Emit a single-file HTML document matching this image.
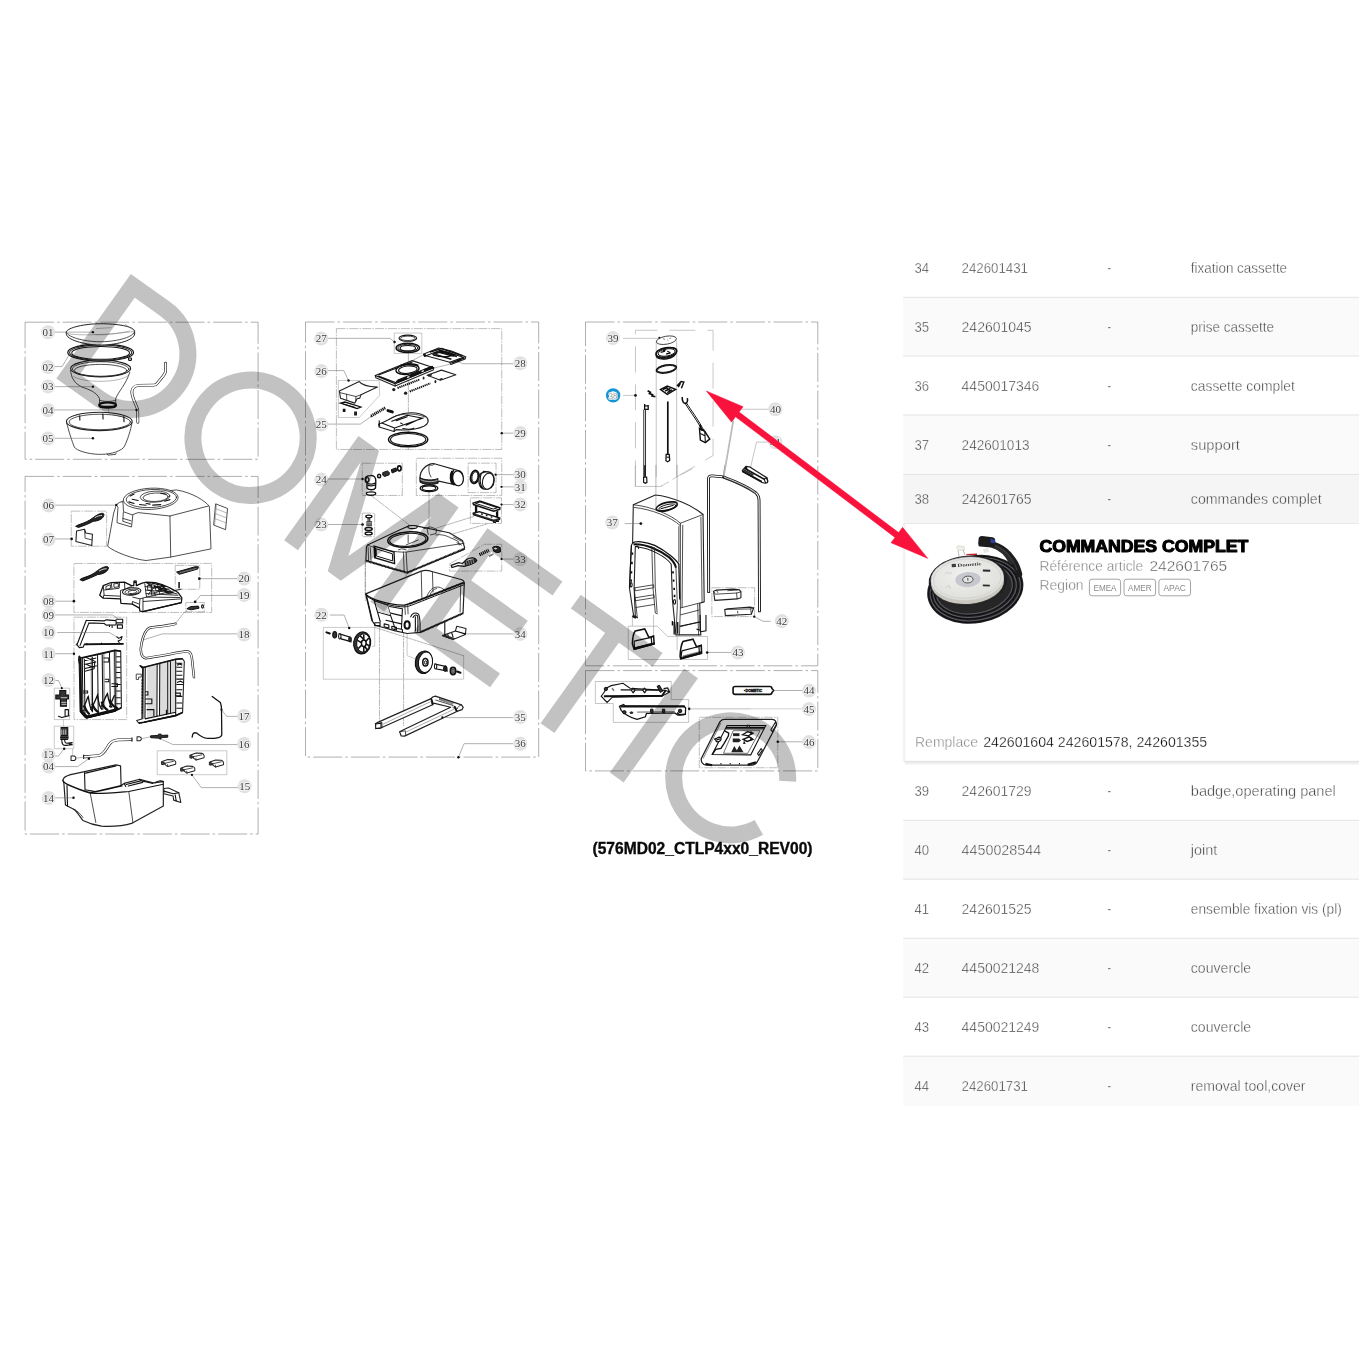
<!DOCTYPE html>
<html lang="fr"><head><meta charset="utf-8"><title>Dometic CTLP4xx0 - vue eclatee</title>
<style>
html,body{margin:0;padding:0;background:#fff;width:1359px;height:1359px;overflow:hidden}
svg{display:block;font-family:"Liberation Sans",sans-serif}
.tg{filter:grayscale(1)}
.s{font-family:"Liberation Serif",serif}
.ln{fill:none;stroke:#222;stroke-width:.8;stroke-linejoin:round;stroke-linecap:round}
.z *{vector-effect:non-scaling-stroke}
.lt{fill:none;stroke:#707070;stroke-width:.5;stroke-linejoin:round;stroke-linecap:round}
.lb{fill:none;stroke:#111;stroke-width:1.1;stroke-linejoin:round;stroke-linecap:round}
.wf{fill:#fff;stroke:#222;stroke-width:.8;stroke-linejoin:round}
.dd{fill:none;stroke:#858585;stroke-width:.65;stroke-dasharray:29 3 2.6 3}
.ds{fill:none;stroke:#8a8a8a;stroke-width:.55;stroke-dasharray:9 1.2 1.5 1.2}
.ld{fill:none;stroke:#707070;stroke-width:.55}
.lbx{fill:none;stroke:#959595;stroke-width:.5}
.lc{fill:#e1e1e1}
.lx{font-family:"Liberation Serif",serif;font-size:11px;fill:#3a3a3a;text-anchor:middle;stroke:#f6f6f6;stroke-width:1.6px;paint-order:stroke fill;stroke-linejoin:round}
.dot{fill:#111}
</style></head>
<body>
<svg width="1359" height="1359" viewBox="0 0 1359 1359">
<rect width="1359" height="1359" fill="#fff"/>
<!-- 10_table.svg -->
<g class="tg" font-size="15" fill="#3a3a3a" stroke-width=".4" style="paint-order:fill stroke">
<rect x="903.2" y="297.3" width="455.8" height="58.7" fill="#fafafa"/>
<rect x="903.2" y="415.0" width="455.8" height="59.4" fill="#fafafa"/>
<rect x="903.2" y="474.4" width="455.8" height="49.2" fill="#f5f5f5"/>
<rect x="903.2" y="820.3" width="455.8" height="58.9" fill="#fafafa"/>
<rect x="903.2" y="938.2" width="455.8" height="59.0" fill="#fafafa"/>
<rect x="903.2" y="1056.2" width="455.8" height="49.8" fill="#fafafa"/>
<rect x="903.2" y="296.8" width="455.8" height="1" fill="#e4e4e4"/>
<g stroke="#ffffff">
<text x="914.4" y="273.1" textLength="14.6" lengthAdjust="spacingAndGlyphs">34</text>
<text x="961.6" y="273.1" textLength="66.4" lengthAdjust="spacingAndGlyphs">242601431</text>
<text x="1107.4" y="273.1" textLength="3.6" lengthAdjust="spacingAndGlyphs">-</text>
<text x="1190.8" y="273.1" textLength="96.3" lengthAdjust="spacingAndGlyphs">fixation cassette</text>
</g>
<rect x="903.2" y="355.5" width="455.8" height="1" fill="#e4e4e4"/>
<g stroke="#fafafa">
<text x="914.4" y="332.2" textLength="14.6" lengthAdjust="spacingAndGlyphs">35</text>
<text x="961.6" y="332.2" textLength="70.0" lengthAdjust="spacingAndGlyphs">242601045</text>
<text x="1107.4" y="332.2" textLength="3.6" lengthAdjust="spacingAndGlyphs">-</text>
<text x="1190.8" y="332.2" textLength="83.3" lengthAdjust="spacingAndGlyphs">prise cassette</text>
</g>
<rect x="903.2" y="414.5" width="455.8" height="1" fill="#e4e4e4"/>
<g stroke="#ffffff">
<text x="914.4" y="391.2" textLength="14.6" lengthAdjust="spacingAndGlyphs">36</text>
<text x="961.6" y="391.2" textLength="77.7" lengthAdjust="spacingAndGlyphs">4450017346</text>
<text x="1107.4" y="391.2" textLength="3.6" lengthAdjust="spacingAndGlyphs">-</text>
<text x="1190.8" y="391.2" textLength="104.1" lengthAdjust="spacingAndGlyphs">cassette complet</text>
</g>
<rect x="903.2" y="473.9" width="455.8" height="1" fill="#e4e4e4"/>
<g stroke="#fafafa">
<text x="914.4" y="450.0" textLength="14.6" lengthAdjust="spacingAndGlyphs">37</text>
<text x="961.6" y="450.0" textLength="67.9" lengthAdjust="spacingAndGlyphs">242601013</text>
<text x="1107.4" y="450.0" textLength="3.6" lengthAdjust="spacingAndGlyphs">-</text>
<text x="1190.8" y="450.0" textLength="49.1" lengthAdjust="spacingAndGlyphs">support</text>
</g>
<g stroke="#f5f5f5">
<text x="914.4" y="504.2" textLength="14.6" lengthAdjust="spacingAndGlyphs">38</text>
<text x="961.6" y="504.2" textLength="70.0" lengthAdjust="spacingAndGlyphs">242601765</text>
<text x="1107.4" y="504.2" textLength="3.6" lengthAdjust="spacingAndGlyphs">-</text>
<text x="1190.8" y="504.2" textLength="130.9" lengthAdjust="spacingAndGlyphs">commandes complet</text>
</g>
<rect x="903.2" y="819.8" width="455.8" height="1" fill="#e4e4e4"/>
<g stroke="#ffffff">
<text x="914.4" y="796.4" textLength="14.6" lengthAdjust="spacingAndGlyphs">39</text>
<text x="961.6" y="796.4" textLength="70.0" lengthAdjust="spacingAndGlyphs">242601729</text>
<text x="1107.4" y="796.4" textLength="3.6" lengthAdjust="spacingAndGlyphs">-</text>
<text x="1190.8" y="796.4" textLength="145.0" lengthAdjust="spacingAndGlyphs">badge,operating panel</text>
</g>
<rect x="903.2" y="878.7" width="455.8" height="1" fill="#e4e4e4"/>
<g stroke="#fafafa">
<text x="914.4" y="855.2" textLength="14.6" lengthAdjust="spacingAndGlyphs">40</text>
<text x="961.6" y="855.2" textLength="79.5" lengthAdjust="spacingAndGlyphs">4450028544</text>
<text x="1107.4" y="855.2" textLength="3.6" lengthAdjust="spacingAndGlyphs">-</text>
<text x="1190.8" y="855.2" textLength="26.5" lengthAdjust="spacingAndGlyphs">joint</text>
</g>
<rect x="903.2" y="937.7" width="455.8" height="1" fill="#e4e4e4"/>
<g stroke="#ffffff">
<text x="914.4" y="914.3" textLength="14.6" lengthAdjust="spacingAndGlyphs">41</text>
<text x="961.6" y="914.3" textLength="70.0" lengthAdjust="spacingAndGlyphs">242601525</text>
<text x="1107.4" y="914.3" textLength="3.6" lengthAdjust="spacingAndGlyphs">-</text>
<text x="1190.8" y="914.3" textLength="151.0" lengthAdjust="spacingAndGlyphs">ensemble fixation vis (pl)</text>
</g>
<rect x="903.2" y="996.7" width="455.8" height="1" fill="#e4e4e4"/>
<g stroke="#fafafa">
<text x="914.4" y="973.4" textLength="14.6" lengthAdjust="spacingAndGlyphs">42</text>
<text x="961.6" y="973.4" textLength="77.7" lengthAdjust="spacingAndGlyphs">4450021248</text>
<text x="1107.4" y="973.4" textLength="3.6" lengthAdjust="spacingAndGlyphs">-</text>
<text x="1190.8" y="973.4" textLength="60.4" lengthAdjust="spacingAndGlyphs">couvercle</text>
</g>
<rect x="903.2" y="1055.7" width="455.8" height="1" fill="#e4e4e4"/>
<g stroke="#ffffff">
<text x="914.4" y="1032.4" textLength="14.6" lengthAdjust="spacingAndGlyphs">43</text>
<text x="961.6" y="1032.4" textLength="77.7" lengthAdjust="spacingAndGlyphs">4450021249</text>
<text x="1107.4" y="1032.4" textLength="3.6" lengthAdjust="spacingAndGlyphs">-</text>
<text x="1190.8" y="1032.4" textLength="60.4" lengthAdjust="spacingAndGlyphs">couvercle</text>
</g>
<g stroke="#fafafa">
<text x="914.4" y="1091.2" textLength="14.6" lengthAdjust="spacingAndGlyphs">44</text>
<text x="961.6" y="1091.2" textLength="66.4" lengthAdjust="spacingAndGlyphs">242601731</text>
<text x="1107.4" y="1091.2" textLength="3.6" lengthAdjust="spacingAndGlyphs">-</text>
<text x="1190.8" y="1091.2" textLength="114.7" lengthAdjust="spacingAndGlyphs">removal tool,cover</text>
</g>
</g>
<defs>
<linearGradient id="shb" x1="0" y1="0" x2="0" y2="1"><stop offset="0" stop-color="#000" stop-opacity=".13"/><stop offset="1" stop-color="#000" stop-opacity="0"/></linearGradient>
<linearGradient id="shl" x1="1" y1="0" x2="0" y2="0"><stop offset="0" stop-color="#000" stop-opacity=".07"/><stop offset="1" stop-color="#000" stop-opacity="0"/></linearGradient>
</defs>
<rect x="903.2" y="523.1" width="456" height="1" fill="#e6e6e6"/>
<rect x="904.7" y="760.6" width="455" height="5" fill="url(#shb)"/>
<rect x="901.7" y="524" width="3" height="238" fill="url(#shl)"/>
<rect x="904.7" y="524.1" width="455" height="236.5" fill="#fff"/>
<rect x="904.2" y="524.1" width="1" height="236.5" fill="#efefef"/>

<!-- 12_panel.svg -->
<g class="tg">
<text x="1039.4" y="552.3" font-size="16.4" font-weight="bold" fill="#000" stroke="#000" stroke-width="1.05" stroke-linejoin="round" textLength="209" lengthAdjust="spacingAndGlyphs">COMMANDES COMPLET</text>
<text x="1039.6" y="570.6" font-size="15" fill="#7c7c7c" stroke="#fff" stroke-width=".35" style="paint-order:fill stroke" textLength="103.6" lengthAdjust="spacingAndGlyphs">Référence article</text>
<text x="1149.4" y="570.6" font-size="15" fill="#585858" stroke="#fff" stroke-width=".35" style="paint-order:fill stroke" textLength="77.8" lengthAdjust="spacingAndGlyphs">242601765</text>
<text x="1039.6" y="590.2" font-size="15" fill="#7c7c7c" stroke="#fff" stroke-width=".35" style="paint-order:fill stroke" textLength="44" lengthAdjust="spacingAndGlyphs">Region</text>
<g fill="#fff" stroke="#9a9a9a" stroke-width=".9">
<rect x="1089.4" y="579.2" width="31.2" height="16.6" rx="2.6"/>
<rect x="1124" y="579.2" width="31.6" height="16.6" rx="2.6"/>
<rect x="1158.9" y="579.2" width="31.6" height="16.6" rx="2.6"/>
</g>
<g font-size="8.6" fill="#8a8a8a" text-anchor="middle">
<text x="1105" y="590.7" textLength="23" lengthAdjust="spacingAndGlyphs">EMEA</text>
<text x="1139.8" y="590.7" textLength="23.5" lengthAdjust="spacingAndGlyphs">AMER</text>
<text x="1174.7" y="590.7" textLength="22.5" lengthAdjust="spacingAndGlyphs">APAC</text>
</g>
<text x="915" y="746.8" font-size="15" fill="#858585" stroke="#fff" stroke-width=".35" style="paint-order:fill stroke" textLength="63" lengthAdjust="spacingAndGlyphs">Remplace</text>
<text x="983.2" y="746.8" font-size="15" fill="#000" stroke="#fff" stroke-width=".3" style="paint-order:fill stroke" textLength="224" lengthAdjust="spacingAndGlyphs">242601604 242601578, 242601355</text>
</g>

<!-- 14_product.svg -->
<g>
<defs>
<radialGradient id="dg" cx=".45" cy=".4" r=".7"><stop offset="0" stop-color="#f0f0ee"/><stop offset="1" stop-color="#dcdcd8"/></radialGradient>
<filter id="pb" x="-5%" y="-5%" width="110%" height="110%"><feGaussianBlur stdDeviation=".4"/></filter>
</defs>
<g filter="url(#pb)">
<!-- cable coil -->
<g transform="translate(975.3,589.3) rotate(-10)">
<ellipse cx="0" cy="0" rx="48.5" ry="34" fill="#252527"/>
<g fill="none" stroke="#5c5c62" stroke-width="1">
<ellipse cx="0" cy="0" rx="45.5" ry="31"/>
<ellipse cx="-.5" cy="-.5" rx="42" ry="28"/>
<ellipse cx="-1" cy="-1" rx="38.5" ry="25"/>
</g>
<g fill="none" stroke="#0e0e10" stroke-width="1">
<ellipse cx="0" cy="0" rx="47" ry="32.5"/>
<ellipse cx="-.5" cy="-.5" rx="43.7" ry="29.5"/>
<ellipse cx="-1" cy="-1" rx="40.2" ry="26.5"/>
</g>
</g>
<!-- cable going to connector -->
<path d="M1019,574 C1015,558 1004,548 994,545" fill="none" stroke="#1d1d1f" stroke-width="6.5" stroke-linecap="round"/>
<path d="M1011,562 C1006,552 1000,548 994,546" fill="none" stroke="#2a2a2c" stroke-width="5" stroke-linecap="round"/>
<path d="M1017,570 C1013,557 1004,549 995,546" fill="none" stroke="#55555a" stroke-width=".6"/>
<!-- connector -->
<path d="M978.6,538.5 Q979,536 982,536 L992.5,537.2 Q995.5,538 995.3,541 L994.6,546 Q994,548 991,547.6 L980,546.5 Q978,546 978.2,543.5 Z" fill="#1b1b1f"/>
<path d="M990.5,538.4 L995,540 L994.5,543.6 L990.5,542.8 Z" fill="#2b3f9a"/>
<!-- small white connector & red wire -->
<path d="M956.5,548 L958,545.6 L964,546.6 L964.5,550 L958.5,550.6 Z" fill="#efeee9" stroke="#bdbbb2" stroke-width=".4"/>
<path d="M958,550.5 L959,556 M963,550 L965,555" stroke="#8a8a80" stroke-width=".6"/>
<path d="M966.5,554.6 L977,554.2" stroke="#c8242c" stroke-width="1.4" fill="none"/>
<path d="M983,549 L988,548 L989,552 L984,553Z" fill="#e8e7e2"/>
<!-- disc -->
<g transform="translate(967.3,578.6) rotate(-4.2)">
<ellipse cx="0.5" cy="2" rx="39.3" ry="24.8" fill="#1f1f21"/>
<ellipse cx="0" cy="5" rx="36.6" ry="21.6" fill="#2e2d2b"/>
<ellipse cx="0" cy="3.8" rx="36.5" ry="21.6" fill="#c9c7c0"/>
<ellipse cx="0" cy="0" rx="36.4" ry="21.5" fill="url(#dg)" stroke="#d2d1cc" stroke-width=".5"/>
<ellipse cx="0" cy="0" rx="33.8" ry="19.6" fill="none" stroke="#b5b6b8" stroke-width=".35"/>
<ellipse cx="0.5" cy="1" rx="12.6" ry="7.6" fill="#c6c8ce"/>
<ellipse cx="0.5" cy="1" rx="5.2" ry="3.4" fill="#e4e4e4" stroke="#26262a" stroke-width=".7"/>
<path d="M0.5,-0.6 L0.5,2.2" stroke="#26262a" stroke-width=".8"/>
<rect x="-14.6" y="-15.6" width="4.2" height="3.2" fill="#3c3c40"/><text x="3.2" y="-12.4" font-family="Liberation Serif,serif" font-weight="bold" font-size="4.6" fill="#3c3c40" text-anchor="middle" textLength="24" lengthAdjust="spacingAndGlyphs">Dometic</text>
<rect x="16" y="-7.6" width="7.4" height="1.9" fill="#2a2a2e" transform="rotate(6 19 -6)"/>
<rect x="15" y="7.4" width="7" height="1.8" fill="#2a2a2e" transform="rotate(6 19 8)"/>
<path d="M-22,-6 q2,-3 4,-1 t3,-1 M-22,8 q1,-3 4,-2 l0,3" fill="none" stroke="#b9b9bc" stroke-width=".5"/>
</g>
</g>
</g>

<!-- 20_boxes.svg -->
<g class="dd">
<rect x="25.1" y="322.2" width="233" height="137.1"/>
<rect x="25.1" y="476.4" width="233" height="357.6"/>
<rect x="305.5" y="322" width="233.2" height="435.1"/>
<rect x="585.5" y="322" width="232.3" height="343.8"/>
<rect x="585.5" y="670.6" width="232.3" height="100.3"/>
</g>
<text class="tg" x="592.5" y="853.6" font-size="15.6" font-weight="bold" fill="#0a0a0a" stroke="#0a0a0a" stroke-width=".35" textLength="220" lengthAdjust="spacingAndGlyphs">(576MD02_CTLP4xx0_REV00)</text>

<!-- 30_colA1.svg -->
<g class="z" transform="translate(30,318) scale(0.110375)">
<!-- axis -->
<path class="lt" d="M712,250 L712,1010"/>
<!-- 05 bowl -->
<path class="wf" d="M332,945 C345,1010 385,1130 402,1170 C420,1200 520,1232 620,1235 C700,1238 800,1222 850,1172 C880,1120 915,1010 925,940"/>
<path class="ln" d="M700,1232 L705,1242 L775,1236 L780,1224"/>
<ellipse class="wf" cx="628" cy="937" rx="298" ry="83" style="stroke-width:1.1"/>
<ellipse class="ln" cx="632" cy="942" rx="278" ry="70"/>
<path class="lb" d="M450,885 L452,925 M660,870 L662,915 M850,892 L852,940"/>
<!-- 03 funnel -->
<path class="wf" d="M368,470 C372,540 400,590 470,625 C540,650 600,670 630,730 L630,772 L778,772 L776,730 C800,670 870,600 905,490"/>
<ellipse cx="703" cy="790" rx="78" ry="24" fill="#fff" stroke="#111" stroke-width="1.87"/>
<ellipse cx="703" cy="783" rx="74" ry="18" fill="none" stroke="#111" stroke-width="1.36"/>
<path class="ln" d="M630,745 C660,760 750,760 777,745"/>
<ellipse class="wf" cx="640" cy="458" rx="272" ry="76" style="stroke-width:1.1"/>
<ellipse class="ln" cx="640" cy="462" rx="256" ry="66"/>
<ellipse class="ln" cx="640" cy="475" rx="238" ry="55"/>
<path class="lt" d="M395,530 C480,590 800,590 885,525"/>
<!-- 02 ring -->
<ellipse cx="640" cy="312" rx="298" ry="78" fill="#fff" stroke="#111" stroke-width="1.19"/>
<ellipse cx="640" cy="313" rx="282" ry="69" fill="none" stroke="#222" stroke-width="1.02"/>
<ellipse cx="640" cy="316" rx="262" ry="58" fill="#fff" stroke="#111" stroke-width="1.02"/>
<rect x="893" y="362" width="26" height="22" rx="5" fill="#fff" stroke="#111" stroke-width="1.1"/>
<!-- 01 lid -->
<path class="wf" d="M328,128 L330,152 C350,205 520,248 650,245 C800,242 940,200 948,145 L948,120 C940,75 790,52 640,52 C500,52 340,85 328,128 Z" style="stroke-width:1"/>
<path class="ln" d="M328,128 C340,180 520,218 650,215 C800,212 945,170 948,120"/>
<path class="lt" d="M335,140 C450,165 720,150 945,122 M862,57 L942,115 M600,95 L735,88 M590,150 C680,160 800,140 900,118"/>
<!-- 04 tube -->
<path d="M1228,410 L1228,480 C1228,500 1215,515 1195,540 L1150,595 C1142,605 1135,608 1120,608 L985,610 C950,612 925,635 923,670 C922,720 965,790 975,830 L977,945" fill="none" stroke="#222" stroke-width="2.89" stroke-linecap="round" stroke-linejoin="round"/>
<path d="M1228,410 L1228,480 C1228,500 1215,515 1195,540 L1150,595 C1142,605 1135,608 1120,608 L985,610 C950,612 925,635 923,670 C922,720 965,790 975,830 L977,945" fill="none" stroke="#fff" stroke-width="1.61" stroke-linecap="round" stroke-linejoin="round"/>
<!-- leaders -->
<path class="ld" d="M215,128 L570,128 M215,440 L290,440 L360,325 M215,622 L570,622 M215,833 L965,833 M215,1090 L570,1090"/>
<g class="dot"><circle cx="570" cy="128" r="11"/><circle cx="570" cy="622" r="11"/><circle cx="965" cy="833" r="11"/><circle cx="570" cy="1090" r="11"/></g>
</g>

<!-- 31_colA2.svg -->
<clipPath id="cA2"><rect x="-100" y="-100" width="1600" height="1105"/></clipPath>
<g class="z" transform="translate(60,480) scale(0.13245)" clip-path="url(#cA2)">
<!-- 06 cover -->
<path class="wf" d="M425,188 L405,250 L360,500 C400,540 560,600 650,608 L835,582 L1140,520 L1128,200 C1100,160 1000,95 880,75 L560,110 Z"/>
<path class="ln" d="M548,262 L590,246 L830,272 L1122,196 M830,272 L836,582"/>
<ellipse class="wf" cx="685" cy="142" rx="207" ry="80" transform="rotate(-3 685 142)"/>
<ellipse class="ln" cx="690" cy="140" rx="190" ry="68" transform="rotate(-3 690 140)"/>
<ellipse class="ln" cx="718" cy="126" rx="112" ry="42" transform="rotate(-3 718 126)"/>
<ellipse class="ln" cx="722" cy="130" rx="95" ry="32" transform="rotate(-3 722 130)"/>
<path class="lb" d="M520,165 l40,12 M545,145 l45,10 M600,185 l50,6 M700,190 l60,-4 M790,160 l40,-12 M650,178 l30,4 M760,100 l40,8 M530,120 l30,-14"/>
<path class="wf" d="M425,190 C440,170 460,162 475,165 L480,240 L550,265 L540,355 L430,322 L438,205 Z"/>
<path class="ln" d="M478,245 L474,312 L537,332 M474,290 L537,308"/>
<!-- sticker -->
<path class="wf" d="M1175,180 L1265,215 L1250,375 L1160,340 Z"/>
<path class="lt" d="M1172,215 L1262,250 M1169,252 L1259,287 M1166,290 L1256,325 M1182,183 L1167,343"/>
<!-- 07 box -->
<path class="ds" d="M85,235 H352 V500 H85 Z"/>
<path d="M118,350 C140,335 170,330 200,315 C240,300 260,270 300,255 C320,248 338,250 330,270 C320,300 280,310 250,312 C220,330 180,345 140,358 Z" fill="#222" stroke="#111" stroke-width="1"/>
<path d="M262,285 C280,272 300,268 318,268" fill="none" stroke="#fff" stroke-width="0.8"/>
<path class="wf" d="M125,385 L185,372 L195,400 L245,410 L240,495 L120,465 Z" style="stroke-width:1.1"/>
<path class="ln" d="M185,372 L190,440 L240,452"/>
<!-- 08 group box -->
<path class="ds" d="M105,630 H1145 V1000 H105 Z"/>
<path d="M150,752 C175,735 205,732 235,716 C270,700 290,672 330,658 C352,650 372,652 364,672 C352,700 315,712 285,714 C250,730 215,746 172,762 Z" fill="#222" stroke="#111" stroke-width="1"/>
<path d="M295,688 C315,674 335,670 352,670" fill="none" stroke="#fff" stroke-width="0.8"/>
<!-- 20 sub box -->
<path class="ds" d="M870,645 H1055 V825 H870 Z"/>
<path d="M880,695 L900,712 L1040,672 L1045,655 L1020,655 Z" fill="#333" stroke="#111" stroke-width="1"/>
<path d="M905,700 L1030,668" stroke="#fff" stroke-width="0.7" stroke-dasharray=".4 .4" fill="none"/>
<path d="M899,770 L899,818" stroke="#111" stroke-width="1.53" fill="none"/>
<!-- 19 -->
<path class="ds" d="M950,925 H1090 V995 H950 Z"/>
<path d="M958,972 L985,956 L1045,952 L1050,968 L990,980 Z" fill="#333" stroke="#111" stroke-width="1"/>
<ellipse cx="1076" cy="955" rx="7" ry="12" fill="#fff" stroke="#111" stroke-width="1.1"/>
<!-- tube 18 -->
<path class="lt" d="M965,975 L870,1082"/>
<path d="M868,1086 C820,1092 740,1098 700,1102 C660,1110 640,1150 625,1200 C605,1260 610,1310 645,1340 C700,1335 860,1300 930,1288 C975,1282 995,1310 998,1360" fill="none" stroke="#222" stroke-width="2.5" stroke-linecap="round"/>
<path d="M868,1086 C820,1092 740,1098 700,1102 C660,1110 640,1150 625,1200 C605,1260 610,1310 645,1340 C700,1335 860,1300 930,1288 C975,1282 995,1310 998,1360" fill="none" stroke="#fff" stroke-width="1.2" stroke-linecap="round"/>
<!-- leaders -->
<path class="ld" d="M-40,190 L425,190 M-40,445 L85,445 M1052,745 L1359,745 M1020,920 L1060,872 L1359,872 M-40,915 L105,915 M1359,1165 L760,1165 L640,1205 M-40,1022 L400,1022 L420,1042 M-40,1150 L370,1150 L440,1185 M-40,1310 L105,1310"/>
<g class="dot"><circle cx="425" cy="188" r="9"/><circle cx="88" cy="445" r="10"/><circle cx="1052" cy="745" r="10"/><circle cx="1020" cy="920" r="10"/><circle cx="105" cy="915" r="10"/><circle cx="105" cy="1310" r="10"/></g>
</g>

<!-- 32_colA3.svg -->
<g class="z" transform="translate(30,605) scale(0.13245)">
<!-- box 09/10/11 -->
<path class="ds" d="M332,92 H730 V865 H332 Z"/>
<!-- bracket 09 -->
<path class="lb" d="M425,115 L560,120 L575,112 L650,118 L650,150 L575,152 L560,140 L445,135 M425,115 L355,300 L372,322 L402,318 L410,296 L705,292 M445,135 L378,305 M650,108 H700 V135 H655 M660,150 H698 V175 H660 Z M430,290 v10 M540,288 v8 M600,150 v12 M620,152 v18"/>
<path d="M410,298 L705,294" stroke="#111" stroke-width="1.7" fill="none"/>
<path class="lb" d="M655,240 l15,12 l25,-14 l-8,25 l-22,8 l8,12"/>
<circle cx="352" cy="298" r="7" fill="#333"/>
<!-- part 11 left panel -->
<path class="wf" d="M370,388 L395,400 L610,352 L640,342 L685,348 L690,775 L640,800 L425,852 L380,805 Z" style="stroke-width:1.1"/>
<path d="M457,400 L474,396 L478,800 L460,805 Z M546,372 L563,368 L568,770 L550,775 Z M630,352 L657,346 L660,790 L634,796 Z" fill="#a9a9a9"/>
<path d="M380,392 L385,805 L425,850" fill="none" stroke="#111" stroke-width="2.4"/>
<path d="M395,815 L430,845 L640,795 L660,770" fill="none" stroke="#111" stroke-width="3"/>
<path d="M410,760 C420,790 430,810 450,825 M470,745 C480,775 495,800 520,812 M540,730 C550,760 565,785 590,795 M600,715 C610,740 625,765 650,775" fill="none" stroke="#111" stroke-width="2.2"/>

<path d="M392,398 L640,342 L685,348" fill="none" stroke="#111" stroke-width="1.7"/>
<path d="M425,852 L640,800 L690,776" fill="none" stroke="#111" stroke-width="1.7"/>
<g fill="none" stroke="#111" stroke-width="1.02">
<path d="M395,400 L400,830 M410,405 L415,835 M510,378 L515,800 M545,372 L550,790 M600,356 L607,775 M640,345 L645,795 M470,390 L472,810 M420,850 L640,798"/>
<path d="M410,420 l90,-20 M410,450 l90,-20 M415,480 l90,-22 M415,500 l70,-18 M420,395 l70,30 l-5,50 l-65,-30 M650,390 h35 M650,430 h35 M650,470 h35 M650,510 h35 M650,550 h35 M650,600 h35 M650,650 h35 M650,700 h35 M650,745 h35 M555,400 h40 v30 h-40 M565,560 h30 v20 h-30 M615,595 h45 v20 h-45 M400,650 h35 v15 h-35"/>
<path d="M400,770 C420,760 430,700 440,690 C445,720 450,780 470,800 M455,790 C480,760 500,700 510,680 C515,720 520,770 545,790 M530,780 C550,750 570,690 585,670 C590,700 600,750 620,775 M600,770 C615,740 625,700 640,680" stroke-width="1.36"/>
<path d="M380,780 L425,835 M385,800 l35,-10"/>
</g>
<path d="M372,385 C366,400 368,430 374,445" class="lb"/>
<!-- right panel -->
<path class="wf" d="M830,458 L855,472 L1100,410 L1150,405 L1165,425 L1152,812 L1100,835 L860,885 L822,892 L805,872 L845,860 L850,480 Z" style="stroke-width:1.1"/>
<path d="M885,466 L955,450 L953,842 L884,856 Z M985,443 L1035,430 L1035,826 L984,836 Z M1065,424 L1095,414 L1095,812 L1065,820 Z" fill="#dcdcdc"/>
<path d="M830,458 L855,472 L1100,410 L1150,405" fill="none" stroke="#111" stroke-width="1.53"/>
<path d="M822,892 L860,885 L1100,835 L1152,812" fill="none" stroke="#111" stroke-width="1.7"/>
<g fill="none" stroke="#111" stroke-width="1.1">
<path d="M855,472 L852,860 M870,470 L868,858 M960,448 L958,840 M980,444 L978,836 M1040,428 L1040,825 M1060,424 L1060,820 M1100,412 L1100,833 M860,885 L1100,833 M868,860 L1100,810"/>
<path d="M1105,440 h45 M1105,470 h45 M1105,500 h45 M1105,530 h45 M1105,560 h50 M1105,600 h50 M1105,640 h45 M1105,690 h45 M1105,740 h45 M1105,780 h45 M1110,455 l20,-10 l20,10 M1110,585 l25,-10 l20,10 M1095,665 h40 v20 h-40 M870,655 h20 v25 h-20 M870,710 h50 v35 h-50 M880,790 h55 v50 M1030,790 v40"/>
</g>
<path class="wf" d="M802,522 h38 v22 h-20 v18 h-18 Z"/>
<path d="M848,560 v260" stroke="#111" stroke-width="1.53" stroke-dasharray="2 1" fill="none"/>
<!-- tube 18 (continuation) -->
<path d="M1165,55 L1098,140" class="lt"/>
<path id="t18" d="M1098,142 C1050,155 950,165 905,172 C870,185 855,230 842,290 C828,350 840,395 872,402 C960,390 1100,362 1178,350 C1205,348 1218,365 1222,400 L1238,545" fill="none" stroke="#222" stroke-width="2.5" stroke-linecap="round"/>
<path d="M1098,142 C1050,155 950,165 905,172 C870,185 855,230 842,290 C828,350 840,395 872,402 C960,390 1100,362 1178,350 C1205,348 1218,365 1222,400 L1238,545" fill="none" stroke="#fff" stroke-width="1.2" stroke-linecap="round"/>
<!-- 12 -->
<path class="lbx" d="M183,628 H300 V865 H183 Z M183,915 H330 V1085 H183 Z M252,865 V915 M322,1085 V1140"/>
<g fill="#333" stroke="#111" stroke-width="1.1">
<path d="M225,645 h45 v35 h20 v30 h-15 v55 h-45 v-55 h-35 v-30 h30 Z"/>
<path d="M235,925 h50 v60 h-50 Z M232,995 h55 v10 h-55 Z"/>
</g>
<path d="M232,700 h50 M236,735 h40 M238,750 h38 M240,940 v40 M255,940 v40 M270,940 v40" stroke="#fff" stroke-width="0.7" fill="none"/>
<path class="lb" d="M215,840 l25,10 l55,-15 M265,835 V790 h25 v40 M232,1015 h52 M240,1020 C240,1050 250,1062 270,1060 L320,1055 M262,1020 C262,1040 268,1045 285,1043 L320,1040 M300,1040 v16 M310,1039 v16"/>
<!-- hose 04 lower -->
<path d="M408,1146 C460,1142 500,1140 525,1135 C560,1125 575,1085 600,1050 C615,1028 640,1020 665,1018 L768,1015" fill="none" stroke="#222" stroke-width="2.89" stroke-linecap="butt"/>
<path d="M408,1146 C460,1142 500,1140 525,1135 C560,1125 575,1085 600,1050 C615,1028 640,1020 665,1018 L768,1015" fill="none" stroke="#fff" stroke-width="1.7"/>
<path class="lb" d="M405,1133 v26 M770,1003 v25"/>
<path class="wf" d="M310,1140 h25 l10,8 v18 l-10,8 h-25 Z M808,995 h22 l10,8 v14 l-10,8 h-22 Z" style="stroke-width:1.02"/>
<path class="lt" d="M345,1157 L405,1150 M840,1010 L910,995"/>
<path d="M910,988 L965,985 L970,975 L990,975 L992,985 L1040,982 L1040,998 L995,1000 L985,1012 L968,1005 L912,1002 Z" fill="#333" stroke="#111" stroke-width="1"/>
<!-- leaders -->
<path class="ld" d="M180,75 L625,75 L665,105 M205,208 L600,208 L660,245 M180,368 L332,368 M185,570 L215,570 L240,628 M180,1140 L215,1140 L258,1085 M180,1220 L360,1220 L445,1160 M860,262 L1000,218 L1563,218"/>
<g class="dot"><circle cx="332" cy="368" r="9"/><circle cx="240" cy="628" r="8"/><circle cx="258" cy="1085" r="9"/><circle cx="445" cy="1160" r="9"/><circle cx="985" cy="1008" r="7"/></g>
</g>

<!-- 33_colA4.svg -->
<g class="z" transform="translate(50,735) scale(0.10302)">
<!-- 14 tank -->
<path class="wf" d="M125,440 C128,415 150,398 200,385 L640,290 L685,300 L690,490 L720,470 L870,430 L1000,465 L1100,452 L1100,690 L800,855 C720,880 600,890 500,885 C430,875 360,850 320,830 C290,790 260,740 230,720 L150,680 L135,470 Z" style="stroke-width:1.19"/>
<path class="lb" d="M125,440 C135,470 200,500 380,555 C420,562 470,545 700,495 M135,455 C160,490 250,520 390,565 C500,572 620,560 765,548 L1100,478 M335,365 L340,532 L440,548 L690,490 M345,370 L640,300 M165,490 L170,690 M720,470 L735,500 M870,430 L890,445 L1000,470 M740,480 L880,445 M760,495 L900,460 M1100,452 C1080,440 1040,445 1020,465"/>
<path class="ln" d="M390,562 L445,850 M765,550 L805,852 M230,720 C250,722 290,760 320,800"/>
<path class="wf" d="M1105,520 L1150,515 L1250,560 L1270,655 L1200,632 L1195,592 L1105,570 Z" style="stroke-width:1.1"/>
<path class="lb" d="M1105,545 L1195,570 L1250,560 M1215,580 L1225,640"/>
<path class="ld" d="M-40,610 L228,610"/>
<circle class="dot" cx="228" cy="610" r="12"/>
</g>

<!-- 34_colA5.svg -->
<g class="z" transform="translate(140,680) scale(0.095657)">
<path d="M755,172 L840,235 C850,260 852,290 852,310 L855,575 C850,595 835,600 820,602 C780,610 720,612 690,608 C650,600 620,575 595,556 C575,548 560,552 552,565 L545,598" fill="none" stroke="#111" stroke-width="1.27" stroke-linecap="round" stroke-linejoin="round"/>
<path class="ld" d="M852,310 L905,380 L1020,380 M225,620 L345,675 L1020,675 M543,992 L640,1125 L1030,1125"/>
<path class="lbx" d="M180,740 H908 V990 H180 Z"/>
<g class="dot"><circle cx="852" cy="310" r="11"/><circle cx="543" cy="992" r="12"/></g>
<g id="clip15">
<path class="wf" d="M225,855 L290,832 L350,835 C370,840 378,860 372,880 L290,905 L262,885 L262,870 L240,868 L240,885 L225,880 Z" style="stroke-width:1.02"/>
<path d="M225,855 L240,850 L262,868 L262,885 L240,885 L240,868 L225,880 Z" fill="#333"/>
<path class="ln" d="M262,870 L350,850 M290,905 L288,885"/>
</g>
<use href="#clip15" x="297" y="-68"/>
<use href="#clip15" x="500" y="5"/>
<use href="#clip15" x="200" y="68"/>
</g>

<!-- 35_tray08.svg -->
<g class="z" transform="translate(90,560) scale(0.0883)">
<path d="M110,400 L150,290 L240,255 L390,250 L470,290 L495,290 L500,240 L522,240 L525,290 L590,262 L640,250 L740,255 C850,280 960,340 1000,372 L1040,430 L1035,482 L600,585 L565,580 L560,545 L480,500 L350,490 L345,440 L150,432 Z" fill="#fff" stroke="#111" stroke-width="1.27" stroke-linejoin="round"/>
<g fill="none" stroke="#111" stroke-width="0.85" stroke-linejoin="round">
<path d="M150,290 L160,400 M240,255 L250,330 L160,340 M250,330 L330,320 L335,260 M180,300 L230,280 L232,320 L182,335 Z M270,270 L320,265 L322,305 L272,310 Z M390,250 L395,330 L345,345 L345,440 M395,330 L470,300 M150,432 L155,400 L345,410"/>
<ellipse cx="472" cy="356" rx="105" ry="42" transform="rotate(-5 472 356)" stroke-width="1.02"/>
<ellipse cx="476" cy="360" rx="80" ry="30" transform="rotate(-5 476 360)"/>
<ellipse cx="480" cy="362" rx="50" ry="18" transform="rotate(-5 480 362)"/>
<path d="M560,545 L565,440 L600,430 L600,585 M565,440 L480,420 M600,430 L1035,330 M600,470 L1038,440 M560,500 L480,470 L480,500"/>
<path d="M620,265 L640,420 M690,255 L700,405 M760,262 L790,385 M830,285 L880,365 M900,315 L960,350 M620,300 L900,330 M625,340 L950,370 M630,380 L1000,400 M640,420 L1020,425 M660,262 L760,300 L860,300 M700,330 L780,300 M720,380 L820,340 L900,380 M650,290 L700,290 L705,340 L655,345 Z M740,300 L800,310 L810,350 L745,345 Z M850,330 L910,345 L920,385 L860,375 Z M930,370 L990,385 M660,400 L680,360 L730,365 L740,405"/>
</g>
<g stroke="#111" stroke-width="1.27" fill="none"><path d="M700,262 L830,290 M720,300 L870,335 M780,330 L940,372 M640,255 L700,300 M800,280 L850,330 M600,585 L1035,482"/></g>
<path d="M500,240 h22 v14 h-22 Z" fill="#fff" stroke="#111" stroke-width="1.02"/>
</g>

<!-- 40_colB1.svg -->
<g class="z" transform="translate(330,322) scale(0.110375)">
<path class="ds" d="M58,60 H1556 V1155 H58 Z"/>
<path class="lt" d="M710,285 V1150" stroke-dasharray="9 1.5 1.5 1.5"/>
<!-- 27 rings -->
<path class="lbx" d="M582,100 H832 V285 H582 Z"/>
<ellipse cx="705" cy="147" rx="80" ry="28" fill="#fff" stroke="#111" stroke-width="1.1"/>
<ellipse cx="705" cy="148" rx="66" ry="20" fill="none" stroke="#222" stroke-width="0.8"/>
<ellipse cx="705" cy="235" rx="106" ry="42" fill="#fff" stroke="#111" stroke-width="1.44"/>
<ellipse cx="705" cy="235" rx="90" ry="33" fill="none" stroke="#222" stroke-width="1"/>
<ellipse cx="705" cy="237" rx="70" ry="24" fill="none" stroke="#111" stroke-width="1.1"/>
<!-- thin connection lines -->
<path class="lt" d="M745,350 L850,295 M940,418 L1095,380"/>
<!-- 28 cover -->
<path class="wf" d="M850,290 L985,235 L1100,262 L1230,315 L1225,335 L1095,385 L1085,365 L870,305 Z" style="stroke-width:1.1"/>
<path class="lb" d="M870,305 L1000,255 L1210,320 M950,290 C990,265 1060,270 1110,300 M940,300 C1000,320 1060,320 1120,300 M985,275 L1120,310 M1000,262 L1140,298 M1085,365 L1215,318 M850,290 l5,18 l15,-3"/>
<path d="M905,272 L1010,240 L1195,305 M930,300 C960,262 1080,262 1130,308 M955,295 L1100,338 M985,262 L1150,312 M1100,372 L1220,325" fill="none" stroke="#111" stroke-width="1.5"/>
<path d="M852,292 l14,22 M1160,352 l18,-8" stroke="#111" stroke-width="2.2" fill="none"/>
<!-- plate -->
<path class="wf" d="M410,485 L745,350 L940,415 L935,435 L590,580 L415,505 Z" style="stroke-width:1.1"/>
<path class="lb" d="M410,485 L590,560 L940,415 M590,560 V580 M440,480 L745,362 M445,492 L600,550"/>
<ellipse cx="702" cy="430" rx="105" ry="44" fill="#fff" stroke="#111" stroke-width="1.36" transform="rotate(-6 702 430)"/>
<ellipse cx="705" cy="432" rx="85" ry="33" fill="none" stroke="#111" stroke-width="1.1" transform="rotate(-6 705 432)"/>
<path d="M600,545 L700,505 M720,495 L830,450 M850,440 L935,408" stroke="#111" stroke-width="2.55" fill="none"/>
<path d="M610,528 L925,400" stroke="#111" stroke-width="1.02" fill="none"/>
<path d="M640,395 C680,375 760,375 800,395" stroke="#111" stroke-width="1.87" fill="none"/>
<!-- seal plate right -->
<path class="wf" d="M880,482 L1010,436 L1140,478 L1000,527 Z" style="stroke-width:1.1"/>
<path d="M878,482 l40,-14 l8,14 l-30,12 Z M985,518 l25,-10 l15,8 l-22,12 Z" fill="#222"/>
<!-- screws -->
<circle cx="578" cy="612" r="15" fill="#222"/><circle cx="685" cy="645" r="15" fill="#222"/>
<path d="M612,598 L815,520 M722,630 L910,555" stroke="#111" stroke-width="2.04" stroke-dasharray="1.3 .7" fill="none"/>
<ellipse cx="848" cy="507" rx="9" ry="14" fill="#222"/><ellipse cx="955" cy="540" rx="9" ry="14" fill="#222"/>
<!-- 26 -->
<path class="lbx" d="M75,530 H445 L450,665 L265,865 H75 Z"/>
<path class="wf" d="M85,625 L265,540 C290,575 340,585 430,590 L280,660 L270,690 L245,695 L225,735 L95,690 Z" style="stroke-width:1.1"/>
<path class="ln" d="M90,640 L235,675 L280,660 M150,655 L152,705 M235,675 L232,725"/>
<path d="M95,735 L135,725 L280,770 L245,785 Z" fill="#fff" stroke="#111" stroke-width="1.27"/>
<path d="M120,742 l110,32" stroke="#111" stroke-width="1.02" fill="none"/>
<path d="M122,785 v30 M134,785 v30 M225,812 v35 M238,812 v35" stroke="#111" stroke-width="1.36" fill="none"/>
<!-- 25 spring -->
<path d="M372,852 L500,778" stroke="#111" stroke-width="2.89" stroke-dasharray="1.2 .7" fill="none"/>
<path d="M525,802 L565,815" stroke="#111" stroke-width="2.89" fill="none" stroke-linecap="round"/>
<circle cx="375" cy="855" r="9" fill="#222"/>
<!-- 25 base -->
<path class="wf" d="M440,925 L470,915 L600,850 C680,815 800,810 870,858 C905,890 890,925 850,945 C800,968 700,985 600,975 L580,992 L445,952 Z" style="stroke-width:1.1"/>
<path class="lb" d="M470,915 L585,960 L845,870 M585,960 L580,990 M560,900 L700,845 L830,870 L690,935 M600,895 L700,858 M640,915 l15,8 M445,895 l5,50 M660,965 C700,975 740,972 760,962"/>
<path class="ln" d="M540,880 C600,830 760,815 860,860"/>
<!-- seal ring -->
<ellipse cx="708" cy="1065" rx="178" ry="66" fill="#fff" stroke="#111" stroke-width="1.44"/>
<ellipse cx="708" cy="1065" rx="160" ry="55" fill="none" stroke="#111" stroke-width="1.1"/>
<!-- leaders -->
<path class="ld" d="M-40,148 L545,148 L585,182 M-40,440 L125,440 L168,530 M-40,925 L275,925 L375,855 M1160,355 L1200,378 L1658,378 M1556,1007 L1658,1007"/>
<g class="dot"><circle cx="585" cy="182" r="11"/><circle cx="168" cy="530" r="11"/><circle cx="1160" cy="355" r="9"/><circle cx="1556" cy="1007" r="11"/></g>
</g>

<!-- 41_colB2.svg -->
<g class="z" transform="translate(330,450) scale(0.110375)">
<!-- boxes -->
<path class="ds" d="M292,120 H655 V412 H292 Z M782,75 H1556 V412 H782 Z"/>
<path class="ds" d="M292,572 H405 V785 H292 Z"/>
<path class="lt" d="M372,412 L720,680 M897,375 V700" stroke-dasharray="5 1.2 1.2 1.2"/>
<!-- 24 elbow -->
<path d="M318,268 C318,240 340,232 365,232 C400,225 418,250 415,290 L412,345 C400,365 350,365 335,345 L335,300 C322,295 318,285 318,268 Z" fill="#fff" stroke="#111" stroke-width="1.36"/>
<ellipse cx="338" cy="270" rx="17" ry="24" fill="#222" stroke="#111" stroke-width="1"/>
<ellipse cx="338" cy="270" rx="8" ry="13" fill="#fff"/>
<path d="M335,300 C350,312 400,312 413,296 M340,318 C360,328 395,326 412,315" fill="none" stroke="#111" stroke-width="1.19"/>
<ellipse cx="372" cy="395" rx="42" ry="15" fill="#fff" stroke="#111" stroke-width="1.36"/>
<ellipse cx="445" cy="236" rx="14" ry="16" fill="#fff" stroke="#111" stroke-width="1.53"/>
<path d="M478,205 L520,190 L538,205 L535,225 L495,240 L478,228 Z" fill="#333" stroke="#111" stroke-width="1"/>
<path d="M555,178 L598,162 L605,190 L563,208 Z" fill="#222" stroke="#111" stroke-width="1"/>
<ellipse cx="628" cy="166" rx="16" ry="23" fill="#fff" stroke="#111" stroke-width="1.7"/>
<!-- 23 -->
<ellipse cx="352" cy="602" rx="28" ry="12" fill="#fff" stroke="#111" stroke-width="1.27"/>
<path d="M345,612 v32 M360,612 v32" stroke="#111" stroke-width="1.02"/>
<rect x="330" y="645" width="50" height="46" fill="#222"/>
<path d="M332,657 h46 M332,668 h46 M332,679 h46" stroke="#fff" stroke-width="0.5"/>
<ellipse cx="350" cy="716" rx="32" ry="13" fill="#fff" stroke="#111" stroke-width="1.53"/>
<ellipse cx="350" cy="756" rx="32" ry="13" fill="#fff" stroke="#111" stroke-width="1.36"/>
<!-- 31 elbow pipe -->
<path class="wf" d="M815,245 C815,200 850,150 900,130 C915,124 930,122 945,125 L1180,192 C1215,210 1215,300 1165,322 L985,282 L975,300 L818,290 Z" style="stroke-width:1.19"/>
<path d="M815,250 C850,275 940,278 978,258 L975,300 C940,318 850,315 818,292 Z" fill="#333" stroke="#111" stroke-width="1"/>
<path d="M820,268 C860,290 940,292 975,275" stroke="#fff" stroke-width="0.6" fill="none"/>
<path class="ln" d="M900,132 C890,170 895,215 915,245 M905,135 C930,150 945,128 945,125"/>
<ellipse cx="1160" cy="256" rx="48" ry="68" fill="#fff" stroke="#111" stroke-width="1.19" transform="rotate(-8 1160 256)"/>
<path d="M1105,190 C1085,220 1088,290 1112,312 M1120,180 C1098,215 1100,290 1128,318" fill="none" stroke="#111" stroke-width="1.53"/>
<ellipse cx="897" cy="346" rx="80" ry="30" fill="#fff" stroke="#111" stroke-width="1.36"/>
<ellipse cx="897" cy="346" rx="62" ry="21" fill="none" stroke="#111" stroke-width="1.02"/>
<!-- cassette top -->
<path class="wf" d="M340,860 L640,720 L720,685 L790,690 L1080,750 L1200,820 L1220,885 L1215,900 L700,1110 L560,1075 L325,1000 L330,880 Z" style="stroke-width:1.19"/>
<path class="ln" d="M340,862 C450,905 600,928 690,925 L1215,845 M690,925 L700,1105 M665,925 L672,1098 M345,880 L350,1000 M365,885 L372,1005"/>
<path d="M330,1005 L700,1112 L1220,893" fill="none" stroke="#111" stroke-width="2.21" stroke-dasharray=".9 .5"/>
<ellipse cx="705" cy="812" rx="182" ry="70" fill="#fff" stroke="#111" stroke-width="1.53" transform="rotate(-4 705 812)"/>
<ellipse cx="705" cy="814" rx="165" ry="58" fill="none" stroke="#111" stroke-width="1.1" transform="rotate(-4 705 814)"/>
<path class="ln" d="M690,860 L800,815 M708,770 V840"/>
<path d="M400,870 L580,925 L585,1030 L405,975 Z" fill="#fff" stroke="#111" stroke-width="1.36"/>
<path d="M418,895 L565,940 L568,1005 L420,960 Z" fill="none" stroke="#111" stroke-width="1"/>
<path d="M405,880 v95 M412,884 v92" stroke="#111" stroke-width="1.02"/>
<ellipse cx="748" cy="698" rx="42" ry="14" fill="#fff" stroke="#111" stroke-width="1.1"/>
<path class="ln" d="M850,712 l60,-15 l55,20 l-5,40 l-50,12 M880,715 l10,50 M620,905 l30,-10 l40,10 M1105,800 l60,30 l5,30 M1120,790 l80,40 M1150,840 l40,20 M960,770 C1000,760 1060,775 1100,800"/>
<!-- dash-dot verticals -->
<path class="lt" d="M320,1005 V1365 M690,1105 V1365 M870,1100 V1365" stroke-dasharray="6 1.5 1.5 1.5"/>
<!-- 33 key -->
<path class="ds" d="M1084,1032 L1401,854 H1556 V1097 H1084 Z"/>
<path d="M1098,1045 L1165,1020 L1200,1028 L1240,990 C1280,968 1320,975 1330,1000 C1325,1030 1250,1045 1215,1055 L1160,1048 L1105,1065 Z" fill="#fff" stroke="#111" stroke-width="1.19"/>
<path d="M1215,1010 L1320,982 L1328,1012 L1225,1050 Z" fill="#333"/>
<path d="M1235,1008 l8,35 M1255,1002 l8,35 M1275,996 l8,35 M1295,990 l8,35" stroke="#fff" stroke-width="0.6"/>
<!-- leaders -->
<path class="ld" d="M-40,263 L295,263 M-40,675 L295,675"/>
<g class="dot"><circle cx="295" cy="263" r="11"/><circle cx="295" cy="675" r="12"/></g>
</g>

<!-- 42_colB3.svg -->
<g class="z" transform="translate(320,565) scale(0.117733)">
<!-- vertical dash lines -->
<path class="lt" d="M385,-40 V245 M505,520 V1365 M710,560 V1365" stroke-dasharray="6 1.5 1.5 1.5"/>
<!-- box 22 -->
<path class="lbx" d="M465,530 H28 V970 H1220 V770 M440,690 H465 V530 M740,545 V770 L815,800"/>
<path class="lt" d="M465,530 L1220,770" stroke-dasharray="3 1"/>
<!-- tank -->
<path class="wf" d="M388,245 L860,52 C890,42 920,45 950,55 L1205,125 C1225,135 1230,150 1225,170 L1215,410 L850,572 L740,582 L640,560 L470,512 L440,470 Z" style="stroke-width:1.19"/>
<path d="M388,245 C420,290 600,345 720,340 C760,335 800,315 1220,150" fill="none" stroke="#111" stroke-width="1.36"/>
<path d="M400,265 C440,305 620,360 725,355 C770,350 800,330 1222,168" fill="none" stroke="#111" stroke-width="1"/>
<path d="M760,330 L1222,150 M850,572 L1215,410" fill="none" stroke="#111" stroke-width="2.21" stroke-dasharray=".9 .5"/>
<path class="ln" d="M860,55 L865,275 M955,60 L960,230 M720,345 L725,420 M745,340 L748,415 M900,290 C915,240 940,200 975,190 C1010,182 1040,195 1060,215 M935,255 C945,225 960,205 990,200 M1195,175 L1190,400"/>
<path class="lb" d="M395,262 L445,470 M460,300 L512,482 M470,310 L575,345 L600,430 L490,400 M590,352 L700,372 L692,540 M600,430 L640,545 M480,380 L690,430 M560,470 L690,500 M465,490 h45 v25 h-45 Z M545,500 l40,10 v25 l-40,-10 Z M610,520 l40,10 v22 l-40,-10 Z M660,540 l40,8 v22"/>
<path d="M472,312 L575,347 L598,425 L492,398 Z" fill="#ddd" stroke="none"/>
<path class="lb" d="M770,440 C780,410 810,400 835,415 C850,430 852,470 850,560 M790,445 C800,425 815,420 828,430 C835,450 832,500 830,565 M810,440 v120"/>
<ellipse cx="740" cy="510" rx="22" ry="32" fill="#fff" stroke="#111" stroke-width="2.04"/>
<!-- left wheel -->
<path d="M55,572 l28,10" stroke="#111" stroke-width="2.04" stroke-linecap="round"/>
<ellipse cx="125" cy="592" rx="17" ry="28" fill="#333" stroke="#111" stroke-width="1.02"/>
<path d="M165,585 L250,612 L262,650 L180,628 Z" fill="#fff" stroke="#111" stroke-width="1.19"/>
<ellipse cx="255" cy="632" rx="12" ry="22" fill="#333" stroke="#111"/>
<ellipse cx="168" cy="606" rx="10" ry="22" fill="#fff" stroke="#111" stroke-width="1.02"/>
<ellipse cx="358" cy="662" rx="72" ry="94" fill="#333" stroke="#111" stroke-width="1.19" transform="rotate(8 358 662)"/>
<ellipse cx="368" cy="662" rx="56" ry="78" fill="#fff" stroke="#111" stroke-width="1" transform="rotate(8 368 662)"/>
<ellipse cx="372" cy="665" rx="20" ry="28" fill="#fff" stroke="#111" stroke-width="1.53"/>
<path d="M372,637 V590 M372,693 V738 M352,660 L318,640 M392,670 L420,690 M355,680 L325,710 M390,648 L415,620 M340,600 l30,30 M400,720 l-20,-30" stroke="#111" stroke-width="1.53" fill="none"/>
<!-- right wheel -->
<ellipse cx="882" cy="826" rx="72" ry="96" fill="#333" stroke="#111" stroke-width="1.19" transform="rotate(8 882 826)"/>
<ellipse cx="896" cy="826" rx="60" ry="88" fill="#fff" stroke="#111" stroke-width="1.02" transform="rotate(8 896 826)"/>
<ellipse cx="895" cy="826" rx="22" ry="32" fill="#fff" stroke="#111" stroke-width="1.53"/>
<ellipse cx="897" cy="828" rx="9" ry="15" fill="#fff" stroke="#111" stroke-width="1"/>
<path d="M978,842 L1070,862 L1080,900 L992,884 Z" fill="#fff" stroke="#111" stroke-width="1.19"/>
<ellipse cx="982" cy="862" rx="10" ry="21" fill="#fff" stroke="#111" stroke-width="1.02"/>
<ellipse cx="1064" cy="880" rx="15" ry="24" fill="#222" stroke="#111"/>
<ellipse cx="1130" cy="900" rx="22" ry="30" fill="#fff" stroke="#111" stroke-width="1.87"/>
<ellipse cx="1130" cy="900" rx="9" ry="14" fill="#fff" stroke="#111" stroke-width="1"/>
<path d="M1165,905 l28,10" stroke="#111" stroke-width="2.04" stroke-linecap="round"/>
<!-- 34 clip -->
<path class="wf" d="M1040,600 L1150,560 L1162,520 L1240,540 L1235,590 L1130,632 Z" style="stroke-width:1.1"/>
<path class="lb" d="M1150,560 L1232,585 M1060,605 l70,22 M1085,590 l10,30 M1120,580 l10,30 M1060,480 V600"/>
<path d="M1040,600 L1130,632 L1150,622 L1062,592 Z" fill="#333"/>
<!-- leaders -->
<path class="ld" d="M85,425 L205,425 L248,535 M1230,585 L1639,585"/>
<g class="dot"><circle cx="248" cy="535" r="10"/><circle cx="1232" cy="583" r="8"/></g>
</g>

<!-- 43_colB4.svg -->
<g class="z" transform="translate(420,440) scale(0.095657)">
<path class="ds" d="M503,242 H795 V550 H503 Z M527,605 H852 V872 H527 Z"/>
<path class="lt" d="M560,800 L175,920 M700,878 L330,985" stroke-dasharray="3 1"/>
<!-- ring 30 -->
<ellipse cx="572" cy="386" rx="42" ry="68" fill="#fff" stroke="#111" stroke-width="1.87" transform="rotate(12 572 386)"/>
<ellipse cx="574" cy="386" rx="30" ry="55" fill="none" stroke="#111" stroke-width="1" transform="rotate(12 574 386)"/>
<!-- cap -->
<path class="wf" d="M625,362 C640,335 700,322 740,340 C775,360 785,420 765,470 C745,510 690,525 650,505 C615,485 605,410 625,362 Z" style="stroke-width:1.36"/>
<ellipse cx="712" cy="430" rx="58" ry="85" fill="#fff" stroke="#111" stroke-width="1.02" transform="rotate(14 712 430)"/>
<path class="lb" d="M640,350 C622,400 625,470 655,500 M655,340 l10,-12 l20,2 M630,480 l10,15"/>
<!-- 32 -->
<path d="M555,660 L625,638 L835,708 L832,725 L770,745 L560,675 Z" fill="#fff" stroke="#111" stroke-width="1.53"/>
<path d="M580,662 L628,648 L810,708 L765,722 Z" fill="none" stroke="#111" stroke-width="1"/>
<path d="M580,685 V760 M592,690 V755 M800,748 V815 M812,742 V810" stroke="#111" stroke-width="1.19" fill="none"/>
<path d="M555,765 L620,748 L835,815 L832,832 L775,850 L558,782 Z" fill="#333" stroke="#111" stroke-width="1.19"/>
<path d="M575,768 L622,757 L815,818 L772,830 Z" fill="#fff" stroke="none"/>
<path d="M640,770 l15,10 M690,785 l15,10 M740,800 l15,10" stroke="#111" stroke-width="1.36"/>
<path d="M770,850 v12 h20 v-10 M800,840 v12 h20 v-10" stroke="#111" stroke-width="1.02" fill="none"/>
<!-- 33 small bits -->
<path d="M622,1200 L720,1152" stroke="#111" stroke-width="3.4" stroke-dasharray="1.2 .7" fill="none"/>
<path d="M722,1215 L770,1190" stroke="#111" stroke-width="1.53" stroke-dasharray=".6 .4" fill="none"/>
<path d="M760,1125 C775,1105 815,1105 838,1125 L842,1165 C825,1182 790,1180 770,1160 Z" fill="#333" stroke="#111" stroke-width="1.02"/>
<ellipse cx="790" cy="1135" rx="22" ry="16" fill="#fff" stroke="#111" stroke-width="1"/>
<!-- leaders -->
<path class="ld" d="M790,362 H990 M852,490 H990 M852,675 H990 M852,1245 H990"/>
<g class="dot"><circle cx="790" cy="362" r="12"/><circle cx="852" cy="490" r="12"/><circle cx="852" cy="675" r="12"/><circle cx="852" cy="1245" r="12"/></g>
</g>

<!-- 44_colB5.svg -->
<g class="z" transform="translate(360,670) scale(0.10302)">
<!-- handle 35 -->
<path class="wf" d="M150,522 L178,506 L690,278 L705,262 L732,254 L985,338 L1002,362 L990,385 L940,402 L432,642 L400,640 L385,600 L418,582 L880,362 L715,322 L705,338 L195,566 L160,566 Z" style="stroke-width:1.19"/>
<path class="ln" d="M212,510 L215,560 M150,522 L210,512 M385,600 L440,590 L445,638 M690,278 C700,295 705,315 705,338 M735,292 L905,345 M900,360 C915,370 930,385 940,402 M985,338 C965,345 950,355 945,375"/>
<path d="M690,280 C700,295 703,315 703,336 M915,350 C928,365 936,385 938,402" stroke="#111" stroke-width="1.87" fill="none"/>
<path d="M770,282 L905,328" stroke="#111" stroke-width="2.04" stroke-dasharray=".6 .5" fill="none"/>
<path class="lt" d="M225,525 L690,305 M450,600 L915,380" stroke-dasharray=".5 .5"/>
<rect x="152" y="520" width="52" height="45" fill="#fff" stroke="#111" stroke-width="1.1" transform="skewY(-8) translate(0,25)"/>
<!-- leaders -->
<path class="ld" d="M800,460 L860,462 L1485,462 M955,848 L1010,715 L1485,715"/>
<g class="dot"><circle cx="800" cy="460" r="11"/><circle cx="955" cy="848" r="12"/></g>
</g>

<!-- 50_colC1.svg -->
<g class="z" transform="translate(590,322) scale(0.110375)">
<!-- box 38 (long dash) -->
<path d="M412,1489 V75 H1115 V1210 L640,1489" fill="none" stroke="#999" stroke-width="0.55" stroke-dasharray="26 12"/>
<path class="lt" d="M600,170 V1400 M785,170 V1400" style="stroke:#888;stroke-width:0.5"/>
<!-- 39 badge -->
<ellipse cx="692" cy="165" rx="92" ry="36" fill="#fff" stroke="#333" stroke-width="0.9" transform="rotate(-10 692 165)"/>
<path d="M660,150 l20,8 M700,160 l10,10 M720,150 l15,-4" stroke="#555" stroke-width="0.7"/>
<!-- control disc -->
<ellipse cx="690" cy="292" rx="92" ry="42" fill="#333" stroke="#111" stroke-width="1.19" transform="rotate(-10 690 292)"/>
<ellipse cx="692" cy="276" rx="95" ry="42" fill="#fff" stroke="#111" stroke-width="1.7" transform="rotate(-10 692 276)"/>
<ellipse cx="694" cy="276" rx="78" ry="32" fill="none" stroke="#111" stroke-width="1" transform="rotate(-10 694 276)"/>
<path d="M640,275 l40,-12 M690,290 l40,-10 M700,265 l25,12 M660,258 l30,-8" stroke="#111" stroke-width="1.36" fill="none"/>
<!-- o-ring -->
<ellipse cx="692" cy="425" rx="92" ry="35" fill="#fff" stroke="#111" stroke-width="1.53" transform="rotate(-10 692 425)"/>
<ellipse cx="692" cy="425" rx="82" ry="28" fill="none" stroke="#111" stroke-width="0.9" transform="rotate(-10 692 425)"/>
<!-- small parts -->
<path d="M640,612 L700,580 L775,610 L700,655 Z" fill="#fff" stroke="#111" stroke-width="1.53"/>
<path d="M660,612 l40,-18 M680,625 l50,-22 M700,640 l45,-25 M690,590 l40,40" stroke="#111" stroke-width="1.53" fill="none"/>
<path d="M788,580 L825,540 L850,545 L838,575 L828,600 M800,590 l20,-35" stroke="#111" stroke-width="1.44" fill="none"/>
<path d="M522,622 l25,15 l-8,12 l28,10 l-5,10 l30,8" stroke="#111" stroke-width="1.7" fill="none"/>
<!-- left cable -->
<path d="M495,742 v50 h32 v-40 M498,760 h25" stroke="#111" stroke-width="1.36" fill="none"/>
<path d="M487,795 V1400 M503,795 V1400" stroke="#333" stroke-width="1" fill="none"/>
<!-- center cable -->
<path d="M705,720 V1200" stroke="#111" stroke-width="1.7" fill="none"/>
<path d="M690,1200 h28 l4,55 l-18,12 l-16,-10 Z" fill="#fff" stroke="#111" stroke-width="1.27"/>
<path d="M694,1225 h24" stroke="#111" stroke-width="1.02"/>
<!-- right cable -->
<path d="M835,680 C835,710 845,735 862,738 C880,735 888,715 882,690" stroke="#111" stroke-width="1.53" fill="none"/>
<path d="M862,738 C900,800 960,880 1000,950 M872,730 C915,800 980,880 1040,1000" stroke="#111" stroke-width="1" fill="none"/>
<path d="M992,965 L1040,990 L1085,1060 L1045,1092 L1000,1070 Z" fill="#fff" stroke="#111" stroke-width="1.44"/>
<path d="M1040,990 L1045,1092 M1000,1010 l40,20" stroke="#111" stroke-width="1.1" fill="none"/>
<path d="M995,930 l15,45 l25,5" stroke="#111" stroke-width="1.87" fill="none"/>
<!-- leaders -->
<path class="ld" d="M300,148 L628,148 M300,665 L412,665" style="stroke:#999"/>
<path class="lt" d="M1300,900 L1215,1400"/>
<g class="dot"><circle cx="628" cy="142" r="9"/><circle cx="412" cy="665" r="12"/></g>
</g>

<!-- 51_colC2.svg -->
<g class="z" transform="translate(610,470) scale(0.117733)">
<!-- seal 40 -->
<path d="M838,1040 L836,75 C838,55 850,48 870,50 L960,58 C1060,95 1180,150 1240,195 C1262,215 1266,230 1266,260 L1270,1203" fill="none" stroke="#111" stroke-width="2.9" stroke-linejoin="round"/>
<path d="M838,1040 L836,75 C838,55 850,48 870,50 L960,58 C1060,95 1180,150 1240,195 C1262,215 1266,230 1266,260 L1270,1203" fill="none" stroke="#fff" stroke-width="1.1" stroke-linejoin="round"/>
<path d="M960,64 C1060,100 1180,155 1238,200" fill="none" stroke="#333" stroke-width="1.53" stroke-dasharray=".5 .5"/>
<path d="M828,1040 h22 M1258,1204 h22" stroke="#222" stroke-width="1"/>
<!-- 37 housing -->
<path class="wf" d="M198,295 L385,212 C520,225 700,300 790,378 L800,1120 L762,1132 L770,1400 L560,1400 L530,1100 L520,800 C480,740 350,665 215,650 L205,1000 L215,1240 L232,1255 L200,1235 L165,1000 L182,640 L192,620 Z" style="stroke-width:1.1"/>
<path class="ln" d="M198,295 C350,310 520,380 598,452 L790,378 M205,318 C350,332 520,400 596,472 M598,452 L598,1172 L760,1130 M618,470 L612,1165 M585,480 L585,780 M772,400 L782,1120 M598,1172 L590,1400"/>
<ellipse cx="482" cy="310" rx="92" ry="34" fill="#fff" stroke="#111" stroke-width="1.7" transform="rotate(-14 482 310)"/>
<ellipse cx="486" cy="316" rx="74" ry="22" fill="none" stroke="#111" stroke-width="1" transform="rotate(-14 486 316)"/>
<path d="M430,330 L540,300" stroke="#111" stroke-width="1.02"/>
<!-- arch -->
<path d="M192,622 C210,600 300,605 380,640 C480,690 560,760 585,800 L592,1100" fill="none" stroke="#111" stroke-width="1.27"/>
<path d="M200,632 C300,625 420,680 500,740 C540,775 555,800 560,830" fill="none" stroke="#111" stroke-width="2.04"/>
<path d="M215,650 C240,640 250,660 240,670 M182,640 C175,750 170,900 168,1000" fill="none" stroke="#111" stroke-width="1.1"/>
<path d="M190,700 v20 M186,780 v20 M182,860 v20 M180,930 v20 M535,860 v20 M540,930 v20 M545,1000 v20 M548,1060 v20" stroke="#111" stroke-width="1.7"/>
<ellipse cx="180" cy="975" rx="8" ry="18" fill="#fff" stroke="#111" stroke-width="1.1"/><ellipse cx="548" cy="1120" rx="9" ry="20" fill="#fff" stroke="#111" stroke-width="1.1"/>
<!-- back legs and shelves -->
<path class="ln" d="M355,650 L365,1000 L385,1215 L402,1222 M378,660 L385,1000 L400,1210 M205,1000 L232,1255 M215,1000 L370,975 L372,1000 L218,1025 Z M215,1085 L372,1060 L375,1085 L218,1110 Z M218,1168 L378,1142"/>
<path class="ln" d="M560,830 L572,1150 L560,1400 M600,1230 L755,1190 M598,1330 L760,1290 M745,1140 L752,1400"/>
<!-- box 42 -->
<path class="ds" d="M865,1000 H1228 V1245 H865 Z"/>
<path class="wf" d="M880,1030 L905,1020 L1050,1012 L1100,1018 L1112,1035 L1112,1085 L1080,1095 L890,1107 Z" style="stroke-width:1.1"/>
<path class="ln" d="M880,1030 L895,1055 L1075,1045 L1112,1035 M1075,1045 L1080,1095 M905,1020 L915,1040 M1000,1025 L1080,1020"/>
<path class="wf" d="M975,1185 L1000,1178 L1190,1165 L1220,1172 L1200,1225 L980,1237 Z" style="stroke-width:1.1"/>
<path class="ln" d="M975,1185 L1195,1180 L1220,1172 M1195,1180 L1200,1225 M1085,1200 v15"/>
<!-- top stuff -->
<path d="M215,-40 V140 H430 L500,100 M600,42 L700,-10" fill="none" stroke="#9a9a9a" stroke-width="0.55"/>
<path class="lt" d="M390,-40 V330 M570,-40 V290"/>
<path d="M296,-40 V60" stroke="#111" stroke-width="1.36"/>
<path d="M285,60 h26 l3,45 l-14,8 l-14,-8 Z" fill="#fff" stroke="#111" stroke-width="1.19"/>
<!-- leaders -->
<path class="ld" d="M125,455 L262,455 M1225,1245 L1300,1285 L1365,1285"/>
<path class="lt" d="M960,62 L975,-40"/>
<g class="dot"><circle cx="262" cy="455" r="12"/><circle cx="1225" cy="1245" r="10"/><circle cx="960" cy="62" r="7"/></g>
</g>

<!-- 52_colC3.svg -->
<g class="z" transform="translate(700,390) scale(0.0883)">
<path class="ld" d="M785,218 L395,218 L262,985 M780,590 L640,590 L572,880" style="stroke:#8a8a8a;stroke-width:0.5"/>
<g class="dot"><circle cx="572" cy="882" r="11"/><circle cx="262" cy="985" r="9"/></g>
<path class="wf" d="M480,912 L520,866 L560,870 L760,995 L768,1035 L738,1056 L700,1045 L482,925 Z" style="stroke-width:1.27"/>
<path d="M482,918 L700,1040 M505,885 L735,1015 M520,866 L530,900" stroke="#111" stroke-width="1.7" fill="none"/>
<path d="M500,895 L610,955 L600,975 L490,915 Z" fill="#333"/>
<ellipse cx="748" cy="1025" rx="15" ry="28" fill="#fff" stroke="#111" stroke-width="1.02" transform="rotate(-20 748 1025)"/>
</g>

<!-- 53_colC4.svg -->
<g class="z" transform="translate(590,615) scale(0.117733)">
<!-- box 43 -->
<path class="ld" d="M325,95 H570 L660,182 H998 V378 H325 Z M360,0 V95 M540,0 V178 M740,165 V300 M945,150 V182" style="stroke:#8a8a8a;stroke-width:0.5"/>
<path d="M360,245 C362,190 370,150 385,135 L465,118 L500,190 L540,178 L545,245 L375,292 Z" fill="#fff" stroke="#111" stroke-width="1.53"/>
<path d="M375,222 L520,190 L540,178 M375,222 L378,288 M520,190 L525,250 M372,280 L545,238" stroke="#111" stroke-width="1.19" fill="none"/>
<path d="M372,288 L548,242" stroke="#111" stroke-width="2.21"/>
<path d="M765,350 C768,290 775,250 790,225 L875,205 L905,270 L945,258 L948,325 L770,372 Z" fill="#fff" stroke="#111" stroke-width="1.53"/>
<path d="M780,305 L925,268 L945,258 M780,305 L772,368 M925,268 L930,330" stroke="#111" stroke-width="1.19" fill="none"/>
<path d="M770,368 L948,322" stroke="#111" stroke-width="2.21"/>
<path d="M790,350 L945,310" stroke="#111" stroke-width="1.36" stroke-dasharray=".4 .3"/>
<!-- housing feet bottom details -->
<path d="M715,60 V165 M745,60 V160 M700,50 v40" stroke="#111" stroke-width="1.36" fill="none"/>
<path d="M935,0 V140 M985,0 V135 L940,142 M760,95 L935,60 M905,120 l25,8" stroke="#111" stroke-width="1.1" fill="none"/>
<path d="M360,10 l30,15" stroke="#111" stroke-width="1.87"/>
<!-- box 45 -->
<path class="ld" d="M45,565 H690 V718 H838 V912 H198 V752 H45 Z" style="stroke:#8a8a8a;stroke-width:0.5"/>
<!-- bracket upper -->
<path d="M95,690 L125,650 L130,625 L180,600 L280,580 L340,622 L640,640 L675,655 L610,690 L190,698 L145,742 Z" fill="#fff" stroke="#111" stroke-width="1.1"/>
<path d="M118,690 L612,686 L642,642" stroke="#111" stroke-width="1.87" fill="none"/>
<path d="M260,635 L600,638" stroke="#111" stroke-width="1.27" fill="none"/>
<g fill="#333" stroke="#111" stroke-width="1"><circle cx="135" cy="628" r="14"/><path d="M350,640 l15,-22 l18,22 l-16,24 Z M447,640 l15,-22 l18,22 l-16,24 Z"/><path d="M570,605 l20,-8 l28,50 l-22,10 Z"/></g>
<circle cx="365" cy="641" r="6" fill="#fff"/><circle cx="462" cy="641" r="6" fill="#fff"/>
<path d="M190,615 l20,25 l-10,8 l-18,-22 Z" fill="#777"/>
<path d="M625,625 l35,-5 l15,35" stroke="#111" stroke-width="1.19" fill="none"/>
<!-- bracket lower -->
<path d="M250,775 L285,760 L300,775 L800,775 L812,790 L810,845 L745,850 L720,832 L480,836 L470,865 L400,886 C340,875 280,830 265,810 Z" fill="#fff" stroke="#111" stroke-width="1.27"/>
<path d="M258,776 L805,778" stroke="#111" stroke-width="2.04" fill="none"/>
<path d="M400,825 L720,822" stroke="#888" stroke-width="1.36"/>
<g fill="#333" stroke="#111" stroke-width="1"><circle cx="292" cy="826" r="14"/><circle cx="765" cy="815" r="15"/><path d="M515,800 h20 v30 h-20 Z M615,800 h20 v30 h-20 Z"/><ellipse cx="352" cy="830" rx="12" ry="7"/></g>
<path d="M740,830 l20,18 l45,-5" stroke="#111" stroke-width="1.7" fill="none"/>
<!-- leaders -->
<path class="ld" d="M995,318 H1210"/>
<path class="ld" d="M843,797 H1365" style="stroke:#bbb"/>
<g class="dot"><circle cx="995" cy="318" r="11"/><circle cx="843" cy="797" r="11"/></g>
</g>

<!-- 54_colC5.svg -->
<g class="z" transform="translate(690,640) scale(0.10302)">
<!-- 44 -->
<path d="M438,452 H775 Q795,452 795,470 L812,490 L795,510 Q795,528 775,528 H438 Q418,528 418,508 V472 Q418,452 438,452 Z" fill="#fff" stroke="#111" stroke-width="1.61"/>
<path d="M518,490 l18,-10 v20 Z" fill="#111"/><text x="620" y="502" font-size="34" font-weight="bold" fill="#111" stroke="#111" stroke-width=".35" text-anchor="middle" textLength="160" lengthAdjust="spacingAndGlyphs" style="font-family:'Liberation Sans',sans-serif">DOMETIC</text>
<path class="ld" d="M812,490 H1090 M852,988 H1090"/>
<path d="M0,668 H1090" stroke="#c8c8c8" stroke-width="0.8" fill="none"/>
<!-- box 46 -->
<path class="ds" d="M90,750 H852 V1240 H90 Z"/>
<!-- 46 frame -->
<path class="wf" d="M110,1150 L290,795 C300,778 315,770 335,770 L800,770 C830,772 840,790 838,830 L660,1170 C645,1200 625,1215 600,1215 L160,1215 C120,1210 105,1180 110,1150 Z" style="stroke-width:1.27"/>
<path d="M215,1112 L360,830 L735,830 L590,1115 Z" fill="#fff" stroke="#111" stroke-width="1.1"/>
<path d="M350,852 L722,852" stroke="#111" stroke-width="2.04"/>
<path d="M352,866 L715,866" stroke="#555" stroke-width="0.8"/>
<rect x="555" y="828" width="22" height="20" fill="#fff" stroke="#111" stroke-width="1.02"/>
<path d="M325,1100 L420,880 L680,880 L560,1100 Z" fill="none" stroke="#333" stroke-width="0.7"/>
<g fill="#222"><rect x="418" y="905" width="62" height="28"/><path d="M415,955 h60 l20,18 l-20,20 h-60 Z"/><path d="M400,1090 l30,-60 l25,40 l25,-45 l40,65 Z"/><path d="M515,1010 l10,-40 l15,40 Z"/></g>
<path d="M510,920 l50,-30 l50,15 l-45,25 Z M515,965 l60,-25 l35,25 l-55,20 Z" fill="#fff" stroke="#111" stroke-width="1.36"/>
<path d="M590,885 l20,25 l-25,5 M590,945 l20,22 l-28,6" fill="#222" stroke="#111" stroke-width="1"/>
<path d="M215,1112 L250,1062 L300,1052 L330,1005 L372,932 L376,905 L332,880" fill="none" stroke="#111" stroke-width="1.36"/>
<ellipse cx="276" cy="966" rx="27" ry="20" fill="#fff" stroke="#111" stroke-width="1.27" transform="rotate(-30 276 966)"/>
<path d="M262,970 l28,-10 M235,965 l15,-12" stroke="#111" stroke-width="1.27"/>
<path d="M785,872 L828,800 L840,815 L800,890 Z M655,1105 L690,1055 L702,1068 L668,1122 Z" fill="#fff" stroke="#111" stroke-width="1.02"/>
<path d="M150,1203 L215,1216 M560,1212 L640,1186" stroke="#111" stroke-width="2.21"/>
<path d="M300,1195 v14 M390,1195 v14 M480,1195 v14" stroke="#111" stroke-width="1.02"/>
<path d="M128,1150 L300,805" stroke="#555" stroke-width="0.7"/>
<g class="dot"><circle cx="852" cy="988" r="12"/></g>
</g>

<!-- 70_labels.svg -->
<g class="tg">
<circle class="lc" cx="48.0" cy="332.3" r="7"/>
<circle class="lc" cx="48.0" cy="367.0" r="7"/>
<circle class="lc" cx="48.0" cy="386.5" r="7"/>
<circle class="lc" cx="48.0" cy="410.2" r="7"/>
<circle class="lc" cx="48.0" cy="438.4" r="7"/>
<circle class="lc" cx="48.6" cy="505.6" r="7"/>
<circle class="lc" cx="48.6" cy="539.4" r="7"/>
<circle class="lc" cx="244.1" cy="578.5" r="7"/>
<circle class="lc" cx="244.1" cy="595.0" r="7"/>
<circle class="lc" cx="48.6" cy="601.2" r="7"/>
<circle class="lc" cx="48.6" cy="615.0" r="7"/>
<circle class="lc" cx="48.6" cy="632.5" r="7"/>
<circle class="lc" cx="244.1" cy="634.6" r="7"/>
<circle class="lc" cx="48.6" cy="654.0" r="7"/>
<circle class="lc" cx="48.6" cy="680.0" r="7"/>
<circle class="lc" cx="244.1" cy="716.0" r="7"/>
<circle class="lc" cx="244.1" cy="744.0" r="7"/>
<circle class="lc" cx="48.6" cy="754.7" r="7"/>
<circle class="lc" cx="48.6" cy="766.6" r="7"/>
<circle class="lc" cx="244.7" cy="786.2" r="7"/>
<circle class="lc" cx="48.6" cy="798.0" r="7"/>
<circle class="lc" cx="321.3" cy="338.5" r="7"/>
<circle class="lc" cx="321.3" cy="371.1" r="7"/>
<circle class="lc" cx="520.3" cy="363.2" r="7"/>
<circle class="lc" cx="321.3" cy="424.6" r="7"/>
<circle class="lc" cx="520.3" cy="433.1" r="7"/>
<circle class="lc" cx="321.3" cy="479.6" r="7"/>
<circle class="lc" cx="520.3" cy="474.7" r="7"/>
<circle class="lc" cx="520.3" cy="487.0" r="7"/>
<circle class="lc" cx="520.3" cy="504.6" r="7"/>
<circle class="lc" cx="321.3" cy="524.6" r="7"/>
<circle class="lc" cx="520.3" cy="559.2" r="7"/>
<circle class="lc" cx="321.3" cy="614.8" r="7"/>
<circle class="lc" cx="520.3" cy="633.9" r="7"/>
<circle class="lc" cx="520.3" cy="717.0" r="7"/>
<circle class="lc" cx="520.3" cy="743.7" r="7"/>
<circle class="lc" cx="612.9" cy="338.1" r="7"/>
<circle class="lc" cx="775.4" cy="409.2" r="7"/>
<circle class="lc" cx="775.4" cy="442.2" r="7"/>
<circle class="lc" cx="612.2" cy="522.5" r="7"/>
<circle class="lc" cx="781.8" cy="621.1" r="7"/>
<circle class="lc" cx="737.9" cy="652.5" r="7"/>
<circle class="lc" cx="809.0" cy="690.6" r="7"/>
<circle class="lc" cx="809.0" cy="709.1" r="7"/>
<circle class="lc" cx="809.0" cy="742.1" r="7"/>
<text class="lx" x="48.0" y="336.0">01</text>
<text class="lx" x="48.0" y="370.7">02</text>
<text class="lx" x="48.0" y="390.2">03</text>
<text class="lx" x="48.0" y="413.9">04</text>
<text class="lx" x="48.0" y="442.1">05</text>
<text class="lx" x="48.6" y="509.3">06</text>
<text class="lx" x="48.6" y="543.1">07</text>
<text class="lx" x="244.1" y="582.2">20</text>
<text class="lx" x="244.1" y="598.7">19</text>
<text class="lx" x="48.6" y="604.9">08</text>
<text class="lx" x="48.6" y="618.7">09</text>
<text class="lx" x="48.6" y="636.2">10</text>
<text class="lx" x="244.1" y="638.3">18</text>
<text class="lx" x="48.6" y="657.7">11</text>
<text class="lx" x="48.6" y="683.7">12</text>
<text class="lx" x="244.1" y="719.7">17</text>
<text class="lx" x="244.1" y="747.7">16</text>
<text class="lx" x="48.6" y="758.4">13</text>
<text class="lx" x="48.6" y="770.3">04</text>
<text class="lx" x="244.7" y="789.9">15</text>
<text class="lx" x="48.6" y="801.7">14</text>
<text class="lx" x="321.3" y="342.2">27</text>
<text class="lx" x="321.3" y="374.8">26</text>
<text class="lx" x="520.3" y="366.9">28</text>
<text class="lx" x="321.3" y="428.3">25</text>
<text class="lx" x="520.3" y="436.8">29</text>
<text class="lx" x="321.3" y="483.3">24</text>
<text class="lx" x="520.3" y="478.4">30</text>
<text class="lx" x="520.3" y="490.7">31</text>
<text class="lx" x="520.3" y="508.3">32</text>
<text class="lx" x="321.3" y="528.3">23</text>
<text class="lx" x="520.3" y="562.9">33</text>
<text class="lx" x="321.3" y="618.5">22</text>
<text class="lx" x="520.3" y="637.6">34</text>
<text class="lx" x="520.3" y="720.7">35</text>
<text class="lx" x="520.3" y="747.4">36</text>
<text class="lx" x="612.9" y="341.8">39</text>
<text class="lx" x="775.4" y="412.9">40</text>
<text class="lx" x="775.4" y="445.9">41</text>
<text class="lx" x="612.2" y="526.2">37</text>
<text class="lx" x="781.8" y="624.8">42</text>
<text class="lx" x="737.9" y="656.2">43</text>
<text class="lx" x="809.0" y="694.3">44</text>
<text class="lx" x="809.0" y="712.8">45</text>
<text class="lx" x="809.0" y="745.8">46</text>
</g>
<circle cx="613.1" cy="395.4" r="5.7" fill="#f4f4f4" stroke="#1596d3" stroke-width="3"/>
<g class="tg"><text class="lx" x="612.9" y="398.6" font-size="9" style="font-size:8.5px;fill:#9a9a9a">38</text></g>

<!-- 80_watermark.svg -->
<defs>
<clipPath id="wmclip"><rect x="-20" y="-128" width="900" height="128"/></clipPath>
</defs>
<g transform="translate(56.6,378) rotate(35.5)" opacity="0.235" fill="none" stroke="#000" stroke-width="17" stroke-linecap="butt" stroke-linejoin="miter" stroke-miterlimit="10">
<!-- D -->
<path d="M8.5,-8 L8.5,-119.3 L47.5,-119.3 A55.65 55.65 0 0 1 47.5,-8 Z"/>
<!-- O -->
<ellipse cx="192.6" cy="-64" rx="57.5" ry="57.8"/>
<!-- M -->
<path stroke="none" fill="#000" d="M279.5,0 V-128 H304.8 L341,-24.5 L378,-128 H402.5 V0 H385.5 V-105 L349,0 H333 L296.5,-108 V0 Z"/>
<!-- E -->
<path d="M530,-119.5 L446.5,-119.5 L446.5,-8.5 L532.5,-8.5 M446.5,-67.5 L524.5,-67.5"/>
<!-- T -->
<path d="M552.5,-119.5 L653,-119.5 M603,-119.5 L603,0"/>
<!-- I -->
<path d="M688,-128 L688,0"/>
<!-- C -->
<path d="M829.3,-96.2 A57 57 0 1 0 832.7,-41.9"/>
</g>

<!-- 90_arrow.svg -->
<path d="M706.3,391 L743.1,406.7 L739.1,412 L898.6,532.6 L902.6,527.3 L927.8,558.4 L891,542.7 L895,537.4 L735.5,416.8 L731.5,422.1 Z" fill="#f9123c" stroke="#f9123c" stroke-width=".5" stroke-linejoin="round"/>

</svg>
</body></html>
